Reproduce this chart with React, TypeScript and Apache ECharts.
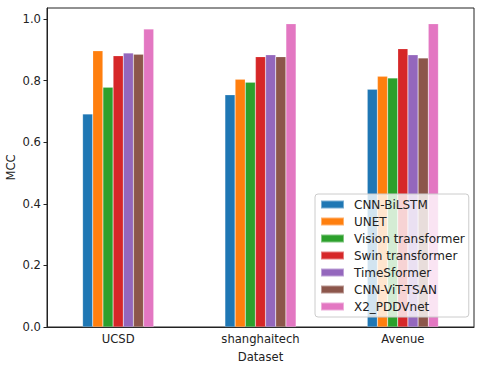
import React, { useEffect, useRef } from "react";
import * as echarts from "echarts";

const categories = ["UCSD", "shanghaitech", "Avenue"];
const seriesNames = [
  "CNN-BiLSTM",
  "UNET",
  "Vision transformer",
  "Swin transformer",
  "TimeSformer",
  "CNN-ViT-TSAN",
  "X2_PDDVnet",
];
const cnnBiLstm = [0.692, 0.754, 0.772];
const unet = [0.897, 0.805, 0.814];
const visionTransformer = [0.779, 0.795, 0.809];
const swinTransformer = [0.881, 0.878, 0.904];
const timeSformer = [0.89, 0.884, 0.884];
const cnnVitTsan = [0.886, 0.878, 0.874];
const x2Pddvnet = [0.968, 0.985, 0.985];
const seriesValues = [cnnBiLstm, unet, visionTransformer, swinTransformer, timeSformer, cnnVitTsan, x2Pddvnet];
const colors = ["#1f77b4", "#ff7f0e", "#2ca02c", "#d62728", "#9467bd", "#8c564b", "#e377c2"];

export default function App() {
  const ref = useRef<HTMLDivElement>(null);
  useEffect(() => {
    if (!ref.current) return;
    const chart = echarts.init(ref.current, null, { renderer: "svg" });
    const font = "DejaVu Sans";
    const fs = 11.6;
    chart.setOption({
      animation: false,
      textStyle: { fontFamily: font },
      grid: {
        left: 47,
        top: 8,
        right: 6,
        bottom: 38,
        show: true,
        borderColor: "#222",
        borderWidth: 1,
        containLabel: false,
        outerBoundsMode: "none",
      },
      legend: {
        orient: "vertical",
        left: 315,
        top: 194,
        data: seriesNames,
        icon: "rect",
        itemWidth: 23,
        itemHeight: 8,
        itemGap: 4,
        padding: [4, 4, 4, 5],
        backgroundColor: "rgba(255,255,255,0.8)",
        borderColor: "#cccccc",
        borderWidth: 1,
        borderRadius: 3,
        textStyle: { fontFamily: font, fontSize: 12, color: "#222", lineHeight: 13, padding: [0, 0, 0, 5] },
      },
      xAxis: {
        type: "category",
        data: categories,
        name: "Dataset",
        nameLocation: "middle",
        nameGap: 24,
        nameMoveOverlap: false,
        nameTextStyle: { fontFamily: font, fontSize: fs, color: "#222" },
        axisLine: { lineStyle: { color: "#222" } },
        axisTick: { alignWithLabel: true, length: 3.5, lineStyle: { color: "#222" } },
        axisLabel: { fontFamily: font, fontSize: fs, color: "#222", margin: 6 },
      },
      yAxis: {
        type: "value",
        min: 0,
        max: 1.036,
        interval: 0.2,
        name: "MCC",
        nameLocation: "middle",
        nameRotate: 90,
        nameGap: 30,
        nameMoveOverlap: false,
        nameTextStyle: { fontFamily: font, fontSize: fs, color: "#222" },
        splitLine: { show: false },
        axisLine: { show: true, lineStyle: { color: "#222" } },
        axisTick: { show: true, length: 3.5, lineStyle: { color: "#222" } },
        axisLabel: {
          fontFamily: font,
          fontSize: fs,
          color: "#222",
          margin: 6,
          showMaxLabel: false,
          formatter: (v: number) => (v > 1.01 ? "" : v.toFixed(1)),
        },
      },
      series: seriesNames.map((name, i) => ({
        name,
        type: "bar",
        data: seriesValues[i],
        barGap: "0%",
        barCategoryGap: "50%",
        itemStyle: { color: colors[i], borderColor: "rgba(255,255,255,0.4)", borderWidth: 0.5 },
      })),
    });
    return () => chart.dispose();
  }, []);
  return <div ref={ref} style={{ width: 480, height: 365, position: "absolute", left: 0, top: 0 }} />;
}
